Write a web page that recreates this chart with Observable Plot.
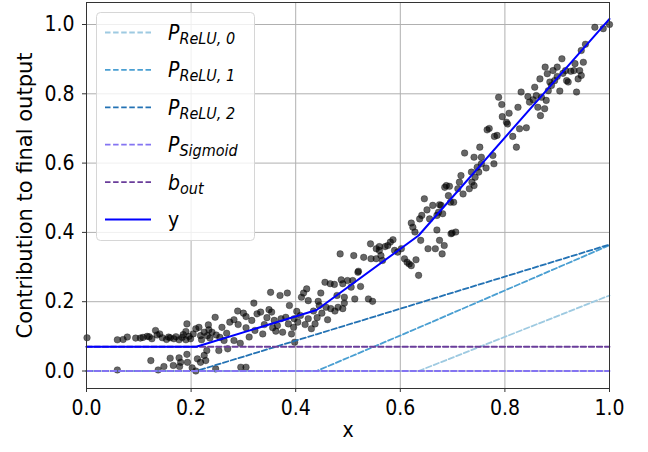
<!DOCTYPE html>
<html>
<head>
<meta charset="utf-8">
<script src="https://cdn.jsdelivr.net/npm/d3@7"></script>
<script src="https://cdn.jsdelivr.net/npm/@observablehq/plot@0.6"></script>
<style>
  html, body { margin: 0; padding: 0; background: white; }
  #wrap { position: relative; width: 648px; height: 452px; }
  #legend { position: absolute; left: 0; top: 0; pointer-events: none; }
  svg text { font-family: "DejaVu Sans Condensed", "DejaVu Sans", sans-serif; font-stretch: condensed; }
  svg text.wide { font-family: "DejaVu Sans", sans-serif; font-stretch: normal; }
</style>
</head>
<body>
<div id="wrap"></div>
<script>
// ---- data ----
const breakX   = [0, 0.21, 0.44, 0.635, 1.0];
const reluZero = [0, 0, 0, 0, 0.218];
const reluOne  = [0, 0, 0, 0.125, 0.363];
const reluTwo  = [0, 0, 0.106, 0.196, 0.365];
const sigmoidC = [0, 0, 0, 0, 0];
const biasOut  = [0.07, 0.07, 0.07, 0.07, 0.07];
const yOutput  = [0.07, 0.07, 0.176, 0.391, 1.016];

const seriesKeys   = ["P_ReLU,0", "P_ReLU,1", "P_ReLU,2", "P_Sigmoid", "b_out", "y"];
const seriesColors = ["#9ecae1", "#4a9fd2", "#2372b4", "#8474f2", "#6a3d9a", "#0000ff"];

const xTicks = [0, 0.2, 0.4, 0.6, 0.8, 1.0];
const yTicks = [0, 0.2, 0.4, 0.6, 0.8, 1.0];

const pointX = [
0.001,0.059,0.070,0.078,0.094,0.103,0.108,0.116,0.120,0.125,0.132,0.135,0.140,0.145,0.153,0.157,0.160,0.167,0.171,0.177,
0.183,0.185,0.190,0.192,0.190,0.196,0.199,0.204,0.209,0.215,0.218,0.220,0.225,0.233,0.234,0.231,0.236,0.240,0.246,0.248,
0.255,0.259,0.268,0.274,
0.059,0.123,0.137,0.148,0.160,0.166,0.177,0.178,0.180,0.192,0.193,0.202,0.209,0.212,0.218,0.225,0.230,0.228,0.247,0.295,
0.305,0.263,0.282,0.253,0.270,0.294,
0.289,0.300,0.282,0.290,0.305,0.305,0.311,0.316,0.320,0.322,0.326,0.333,0.337,0.340,0.345,0.349,0.352,0.354,0.356,0.359,
0.362,0.365,0.370,0.372,0.375,0.381,0.384,0.386,0.388,0.392,0.396,0.397,0.398,0.402,0.404,0.409,0.411,0.415,0.418,0.421,
0.424,0.424,0.430,0.434,0.437,0.441,0.443,0.445,0.448,0.450,0.456,0.458,0.461,0.466,0.467,0.474,0.475,0.479,0.481,0.485,
0.487,0.493,0.499,0.511,0.513,0.519,0.530,0.539,0.547,0.543,0.544,0.554,0.560,
0.490,0.493,0.490,0.509,0.506,0.524,0.520,
0.554,0.563,0.566,0.571,0.576,0.581,0.586,0.589,0.595,0.602,0.608,0.613,0.617,0.621,0.630,0.635,0.621,0.624,0.628,0.637,
0.639,0.641,0.646,0.651,0.653,0.656,0.662,0.667,0.670,0.673,0.675,0.678,0.681,0.684,0.688,0.692,0.696,0.699,0.706,0.710,
0.720,0.732,0.741,0.680,0.670,0.697,0.560,
0.675,0.685,0.694,0.702,0.713,0.716,0.723,0.736,0.737,0.741,0.743,0.747,0.750,0.752,0.755,0.755,0.764,0.766,0.770,0.777,
0.779,0.780,0.785,0.788,0.794,0.795,0.803,0.805,0.808,0.815,0.822,0.825,0.831,0.828,0.841,0.844,0.847,0.854,0.857,0.860,
0.863,0.867,0.868,0.870,0.876,0.877,0.879,0.881,0.883,0.886,0.889,0.892,0.895,0.900,0.905,0.900,0.909,0.911,0.916,0.918,
0.921,0.926,0.932,0.934,0.937,0.940,0.943,0.946,0.946,0.950,0.954,0.972,0.988,1.000
];
const pointY = [
0.096,0.090,0.091,0.098,0.095,0.095,0.097,0.100,0.099,0.093,0.117,0.104,0.107,0.096,0.091,0.098,0.096,0.093,0.099,0.090,
0.097,0.105,0.114,0.136,0.090,0.100,0.093,0.107,0.122,0.126,0.102,0.090,0.112,0.133,0.119,0.102,0.095,0.112,0.155,0.104,
0.097,0.126,0.109,0.141,
0.003,0.030,0.003,0.013,0.037,0.016,0.038,0.013,0.025,0.048,0.025,0.009,0.000,0.035,0.025,0.045,0.059,0.030,0.006,0.011,
0.011,0.088,0.088,0.059,0.064,0.080,
0.173,0.167,0.148,0.134,0.157,0.125,0.098,0.146,0.196,0.117,0.165,0.170,0.107,0.134,0.154,0.177,0.227,0.170,0.125,0.146,
0.115,0.131,0.218,0.151,0.112,0.155,0.225,0.136,0.189,0.107,0.126,0.151,0.083,0.172,0.141,0.160,0.213,0.225,0.134,0.237,
0.151,0.203,0.122,0.173,0.136,0.154,0.201,0.189,0.225,0.167,0.256,0.184,0.148,0.252,0.180,0.250,0.173,0.218,0.184,0.338,
0.263,0.196,0.261,0.333,0.208,0.285,0.328,0.208,0.201,0.367,0.324,0.324,0.359,
0.252,0.213,0.180,0.261,0.242,0.244,0.288,
0.353,0.333,0.319,0.359,0.362,0.372,0.379,0.348,0.343,0.353,0.324,0.314,0.309,0.304,0.321,0.276,0.427,0.415,0.401,0.439,
0.377,0.449,0.497,0.465,0.353,0.439,0.478,0.353,0.407,0.458,0.377,0.478,0.454,0.362,0.535,0.506,0.487,0.398,0.401,0.526,
0.511,0.526,0.535,0.338,0.449,0.396,0.348,
0.480,0.530,0.533,0.487,0.545,0.564,0.629,0.574,0.545,0.617,0.559,0.588,0.574,0.646,0.617,0.598,0.586,0.696,0.700,0.622,
0.598,0.677,0.680,0.790,0.769,0.734,0.718,0.713,0.744,0.677,0.646,0.761,0.805,0.699,0.702,0.792,0.776,0.783,0.819,0.795,
0.761,0.843,0.737,0.790,0.757,0.877,0.781,0.858,0.809,0.834,0.824,0.867,0.838,0.877,0.808,0.850,0.901,0.859,0.867,0.838,
0.834,0.865,0.867,0.887,0.805,0.843,0.867,0.925,0.853,0.891,0.943,0.992,0.988,1.000
];

// ---- tables built from the arrays ----
const seriesValues = [reluZero, reluOne, reluTwo, sigmoidC, biasOut, yOutput];
const lineRows = seriesKeys.flatMap((k, i) => breakX.map((x, j) => ({series: k, x, y: seriesValues[i][j]})));
const points = pointX.map((x, i) => ({x, y: pointY[i]}));

const lineMarks = seriesKeys.map((k, i) => Plot.line(lineRows.filter(d => d.series === k), {
  x: "x", y: "y",
  stroke: seriesColors[i],
  strokeWidth: k === "y" ? 2 : 1.8,
  strokeDasharray: k === "y" ? null : "5.5,2.6"
}));

const yLabel = "Contribution to final output";
const chart = Plot.plot({
  width: 648,
  height: 452,
  marginLeft: 86,
  marginRight: 39,
  marginTop: 2,
  marginBottom: 64,
  style: {fontSize: "21px", background: "white", color: "black"},
  x: {domain: [0, 1], label: null},
  y: {domain: [-0.0505, 1.0635], label: null},
  marks: [
    Plot.gridX(xTicks, {stroke: "#b0b0b0", strokeOpacity: 1, strokeWidth: 1}),
    Plot.gridY(yTicks, {stroke: "#b0b0b0", strokeOpacity: 1, strokeWidth: 1}),
    Plot.dot(points, {x: "x", y: "y", r: 3.3, fill: "black", fillOpacity: 0.6, stroke: "black", strokeOpacity: 0.6, strokeWidth: 0.5}),
    ...lineMarks,
    Plot.frame({stroke: "#333", strokeWidth: 1}),
    Plot.axisX(xTicks, {tickSize: 4, tickPadding: 8, tickFormat: d3.format(".1f"), label: null, stroke: "#333"}),
    Plot.axisY(yTicks, {tickSize: 4, tickPadding: 8, tickFormat: d3.format(".1f"), label: null, stroke: "#333"}),
    Plot.text([yLabel], {frameAnchor: "left", textAnchor: "middle", dx: -61, rotate: -90, text: d => d, fontSize: 21, fill: "black"}),
    Plot.text(["x"], {frameAnchor: "bottom", dy: 48, text: d => d, fontSize: 21, fill: "black"})
  ]
});

const wrap = document.getElementById("wrap");
wrap.appendChild(chart);
// the rotated label is not horizontally condensed in the reference
d3.select(chart).selectAll("text").filter(function() { return this.textContent === yLabel; }).classed("wide", true);

// ---- legend (inside the axes, upper left) ----
const legendMain = ["P", "P", "P", "P", "b", "y"];
const legendSub  = ["ReLU, 0", "ReLU, 1", "ReLU, 2", "Sigmoid", "out", ""];
const leg = d3.select(wrap).append("svg")
  .attr("id", "legend").attr("width", 648).attr("height", 452);
leg.append("rect")
  .attr("x", 96.5).attr("y", 12.5).attr("width", 158).attr("height", 228)
  .attr("rx", 4).attr("fill", "white").attr("fill-opacity", 0.8)
  .attr("stroke", "#d6d6d6").attr("stroke-width", 1);
seriesKeys.forEach((k, i) => {
  const cy = 32.5 + i * 37.4;
  leg.append("line")
    .attr("x1", 105).attr("x2", 151).attr("y1", cy).attr("y2", cy)
    .attr("stroke", seriesColors[i])
    .attr("stroke-width", k === "y" ? 2 : 1.8)
    .attr("stroke-dasharray", k === "y" ? null : "5.5,2.6");
  const t = leg.append("text")
    .attr("x", 168).attr("y", cy + 7.5)
    .attr("font-size", 21)
    .attr("fill", "black")
    .attr("font-style", k === "y" ? "normal" : "italic")
    .text(legendMain[i]);
  if (legendSub[i]) {
    t.append("tspan").attr("font-size", 16).attr("dy", 4).text(legendSub[i]);
  }
});
</script>
</body>
</html>
